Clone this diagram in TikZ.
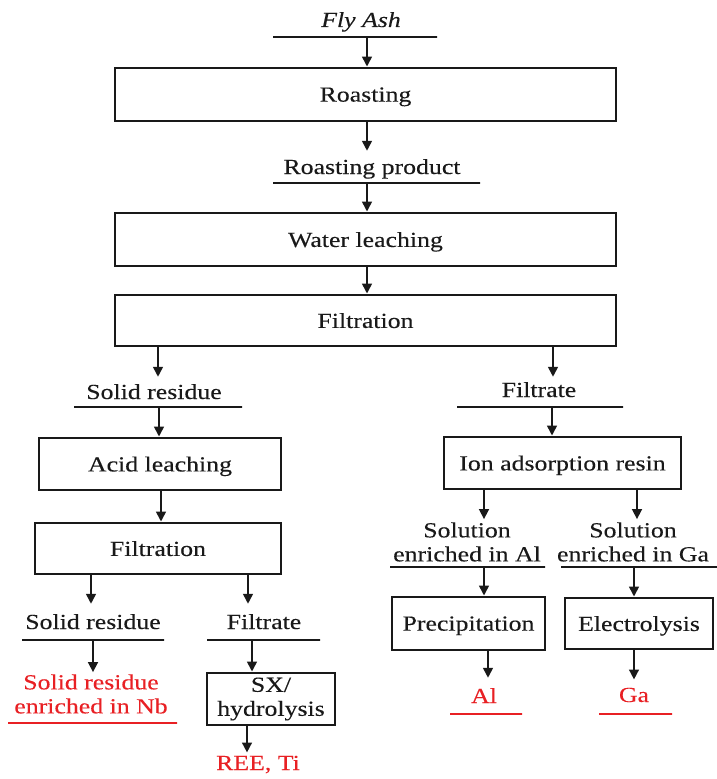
\documentclass[tikz,border=0pt]{standalone}
\usepackage{fontspec}
\setmainfont{Liberation Serif}[FakeStretch=1.2, FakeBold=0.2]
\usetikzlibrary{arrows.meta}
\definecolor{ink}{RGB}{25,25,25}
\definecolor{hot}{RGB}{232,32,36}

\begin{document}
\begin{tikzpicture}[x=1pt,y=-1pt,
  every node/.style={font=\fontsize{21.5}{24}\selectfont, text=ink},
  box/.style={draw=ink, line width=2.7pt, inner sep=0pt, align=center},
  box1/.style={box, text depth=0pt},
  lbl/.style={inner sep=0pt, align=center, anchor=base},
  twoline/.style={inner sep=0pt, align=center},
  bar/.style={draw=ink, line width=2.2pt, inner sep=0pt, minimum height=0pt},
  redbar/.style={bar, draw=hot},
  res/.style={lbl, text=hot},
  arr/.style={draw=ink, line width=2.8pt, -{Triangle[length=10pt,width=9.5pt]}},
]
\useasboundingbox (0,0) rectangle (716,779);

% process boxes
\node[box1, minimum width=501pt, minimum height=53pt] (roast) at (365.5,94.5) {Roasting};
\node[box1, minimum width=501pt, minimum height=53pt] (water) at (365.5,239.5) {Water leaching};
\node[box1, minimum width=501pt, minimum height=51pt] (filt)  at (365.5,320.5) {Filtration};
\node[box1, minimum width=242pt, minimum height=52pt] (acid)  at (160,464) {Acid leaching};
\node[box1, minimum width=246pt, minimum height=51pt] (filt2) at (158,548.5) {Filtration};
\node[box,  minimum width=128pt, minimum height=52pt] (sx)    at (271,699) {SX/\\hydrolysis};
\node[box1, minimum width=237pt, minimum height=52pt] (ion)   at (562.5,463) {Ion adsorption resin};
\node[box1, minimum width=153pt, minimum height=53pt] (prec)  at (468.5,623.5) {Precipitation};
\node[box1, minimum width=148pt, minimum height=51pt] (elec)  at (639,623.5) {Electrolysis};

% intermediate streams with their underlines
\node[lbl, font=\fontsize{21.5}{24}\selectfont\itshape] (fly) at (361,27) {Fly Ash};
\node[bar, minimum width=164pt] (b1) at (355,37) {};
\node[lbl] (prod) at (372,174) {Roasting product};
\node[bar, minimum width=207pt] (b2) at (376.5,183) {};
\node[lbl] (sr1) at (154,399) {Solid residue};
\node[bar, minimum width=168pt] (b3) at (158,407) {};
\node[lbl] (ft1) at (539,397) {Filtrate};
\node[bar, minimum width=166pt] (b4) at (540,407) {};
\node[twoline] (solAl) at (467,542) {Solution\\enriched in Al};
\node[bar, minimum width=155pt] (b5) at (467.5,567) {};
\node[twoline] (solGa) at (633,542) {Solution\\enriched in Ga};
\node[bar, minimum width=156pt] (b6) at (639,567) {};
\node[lbl] (sr2) at (93,629) {Solid residue};
\node[bar, minimum width=142pt] (b7) at (93,640) {};
\node[lbl] (ft2) at (264,629) {Filtrate};
\node[bar, minimum width=113pt] (b8) at (263.5,640) {};

% products
\node[twoline, text=hot] (nb) at (91,694) {Solid residue\\enriched in Nb};
\node[redbar, minimum width=169pt] (b9) at (92.5,723) {};
\node[res] (ree) at (258,770) {REE, Ti};
\node[res] (al) at (484,703) {Al};
\node[redbar, minimum width=72pt] (b10) at (486,714) {};
\node[res] (ga) at (634,702) {Ga};
\node[redbar, minimum width=73pt] (b11) at (635.5,714) {};

% arrow columns
\coordinate (k0)  at (367,0);
\coordinate (kA)  at (158,0);
\coordinate (kB)  at (159,0);
\coordinate (kC)  at (161,0);
\coordinate (kR)  at (553,0);
\coordinate (kR2) at (552,0);
\coordinate (kD)  at (484,0);
\coordinate (kE)  at (637,0);
\coordinate (kF)  at (634,0);
\coordinate (kG)  at (488,0);
\coordinate (kH)  at (91,0);
\coordinate (kI)  at (248,0);
\coordinate (kJ)  at (93,0);
\coordinate (kK)  at (252,0);
\coordinate (kL)  at (247,0);

% flow arrows
\draw[arr] (b1 -| k0) -- (roast.north -| k0);
\draw[arr, shorten >=8pt] (roast.south -| k0) -- (prod.north -| k0);
\draw[arr] (b2 -| k0) -- (water.north -| k0);
\draw[arr] (water.south -| k0) -- (filt.north -| k0);
\draw[arr, shorten >=7pt] (filt.south -| kA) -- (sr1.north -| kA);
\draw[arr] (b3 -| kB) -- (acid.north -| kB);
\draw[arr] (acid.south -| kC) -- (filt2.north -| kC);
\draw[arr, shorten >=5pt] (filt.south -| kR) -- (ft1.north -| kR);
\draw[arr] (b4 -| kR2) -- (ion.north -| kR2);
\draw[arr, shorten >=3pt] (ion.south -| kD) -- (solAl.north -| kD);
\draw[arr, shorten >=3pt] (ion.south -| kE) -- (solGa.north -| kE);
\draw[arr] (b5 -| kD) -- (prec.north -| kD);
\draw[arr] (b6 -| kF) -- (elec.north -| kF);
\draw[arr, shorten >=10pt] (prec.south -| kG) -- (al.north -| kG);
\draw[arr, shorten >=8pt] (elec.south -| kF) -- (ga.north -| kF);
\draw[arr, shorten >=10pt] (filt2.south -| kH) -- (sr2.north -| kH);
\draw[arr, shorten >=10pt] (filt2.south -| kI) -- (ft2.north -| kI);
\draw[arr, shorten >=2pt] (b7 -| kJ) -- (nb.north -| kJ);
\draw[arr] (b8 -| kK) -- (sx.north -| kK);
\draw[arr, shorten >=3pt] (sx.south -| kL) -- (ree.north -| kL);
\end{tikzpicture}
\end{document}
